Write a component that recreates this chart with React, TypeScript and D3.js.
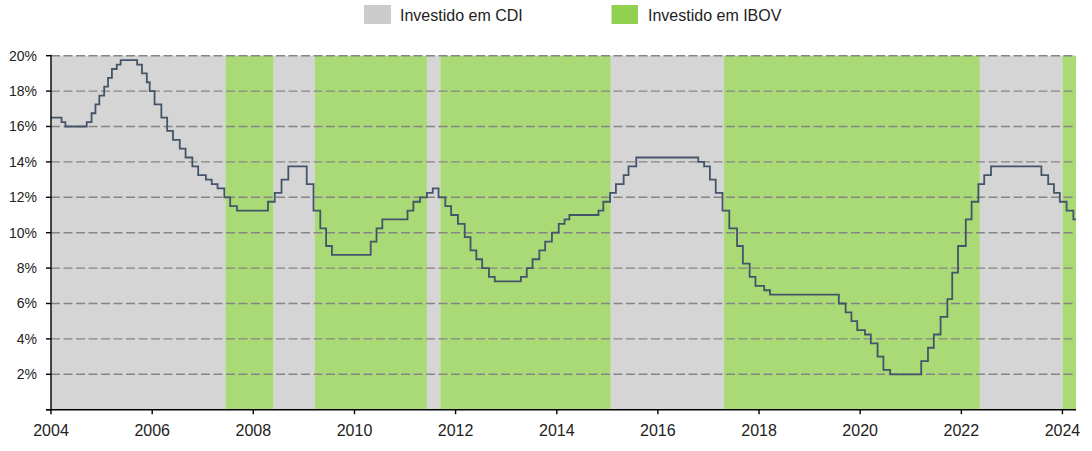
import React from "react";
import * as d3 from "d3";

// Selic target rate changes (decision date, % a.a.)
const changeDates: string[] = [
  "2004-01-01","2004-03-17","2004-04-14","2004-09-15","2004-10-20","2004-11-17","2004-12-15",
  "2005-01-19","2005-02-16","2005-03-16","2005-04-20","2005-05-18","2005-09-14","2005-10-19","2005-11-23","2005-12-14",
  "2006-01-18","2006-03-08","2006-04-19","2006-05-31","2006-07-19","2006-08-30","2006-10-18","2006-11-29",
  "2007-01-24","2007-03-07","2007-04-18","2007-06-06","2007-07-18","2007-09-05",
  "2008-04-16","2008-06-04","2008-07-23","2008-09-10",
  "2009-01-21","2009-03-11","2009-04-29","2009-06-10","2009-07-22",
  "2010-04-28","2010-06-09","2010-07-21",
  "2011-01-19","2011-03-02","2011-04-20","2011-06-08","2011-07-20","2011-08-31","2011-10-19","2011-11-30",
  "2012-01-18","2012-03-07","2012-04-18","2012-05-30","2012-07-11","2012-08-29","2012-10-10",
  "2013-04-17","2013-05-29","2013-07-10","2013-08-28","2013-10-09","2013-11-27",
  "2014-01-15","2014-02-26","2014-04-02","2014-10-29","2014-12-03",
  "2015-01-21","2015-03-04","2015-04-29","2015-06-03","2015-07-29",
  "2016-10-19","2016-11-30",
  "2017-01-11","2017-02-22","2017-04-12","2017-05-31","2017-07-26","2017-09-06","2017-10-25","2017-12-06",
  "2018-02-07","2018-03-21",
  "2019-07-31","2019-09-18","2019-10-30","2019-12-11",
  "2020-02-05","2020-03-18","2020-05-06","2020-06-17","2020-08-05",
  "2021-03-17","2021-05-05","2021-06-16","2021-08-04","2021-09-22","2021-10-27","2021-12-08",
  "2022-02-02","2022-03-16","2022-05-04","2022-06-15","2022-08-03",
  "2023-08-02","2023-09-20","2023-11-01","2023-12-13",
  "2024-01-31","2024-03-20","2024-04-08",
];
const selicValues: number[] = [
  16.5,16.25,16.0,16.25,16.75,17.25,17.75,
  18.25,18.75,19.25,19.5,19.75,19.5,19.0,18.5,18.0,
  17.25,16.5,15.75,15.25,14.75,14.25,13.75,13.25,
  13.0,12.75,12.5,12.0,11.5,11.25,
  11.75,12.25,13.0,13.75,
  12.75,11.25,10.25,9.25,8.75,
  9.5,10.25,10.75,
  11.25,11.75,12.0,12.25,12.5,12.0,11.5,11.0,
  10.5,9.75,9.0,8.5,8.0,7.5,7.25,
  7.5,8.0,8.5,9.0,9.5,10.0,
  10.5,10.75,11.0,11.25,11.75,
  12.25,12.75,13.25,13.75,14.25,
  14.0,13.75,
  13.0,12.25,11.25,10.25,9.25,8.25,7.5,7.0,
  6.75,6.5,
  6.0,5.5,5.0,4.5,
  4.25,3.75,3.0,2.25,2.0,
  2.75,3.5,4.25,5.25,6.25,7.75,9.25,
  10.75,11.75,12.75,13.25,13.75,
  13.25,12.75,12.25,11.75,
  11.25,10.75,10.75,
];

// Allocation regimes
const regimeStarts: string[] = ["2004-01-01","2007-06-14","2008-05-27","2009-03-20","2011-06-08","2011-09-13","2015-01-26","2017-04-22","2022-05-15","2024-01-01"];
const regimeEnds: string[] = ["2007-06-14","2008-05-27","2009-03-20","2011-06-08","2011-09-13","2015-01-26","2017-04-22","2022-05-15","2024-01-01","2024-04-08"];
const regimeTypes: string[] = ["CDI","IBOV","CDI","IBOV","CDI","IBOV","CDI","IBOV","CDI","IBOV"];

const legendLabels: string[] = ["Investido em CDI", "Investido em IBOV"];
const yTicks: number[] = [0, 2, 4, 6, 8, 10, 12, 14, 16, 18, 20];
const xTickYears: number[] = [2004, 2006, 2008, 2010, 2012, 2014, 2016, 2018, 2020, 2022, 2024];

const W = 1092;
const H = 451;
const left = 51;
const right = 1076;
const top = 55.7;
const bottom = 409.7;

const COLORS: Record<string, string> = { CDI: "#cccccc", IBOV: "#92d050" };
const FONT = "'Liberation Sans', Arial, sans-serif";

export default function App() {
  const parse = d3.timeParse("%Y-%m-%d");
  const x = d3.scaleTime().domain([parse("2004-01-01")!, parse("2024-04-08")!]).range([left, right]);
  const y = d3.scaleLinear().domain([0, 20]).range([bottom, top]);

  const points: [Date, number][] = changeDates.map((d, i) => [parse(d)!, selicValues[i]]);
  const line = d3
    .line<[Date, number]>()
    .x((d) => x(d[0]))
    .y((d) => y(d[1]))
    .curve(d3.curveStepAfter);

  return (
    <svg
      width={W}
      height={H}
      style={{ position: "absolute", left: 0, top: 0, background: "#fff" }}
      fontFamily={FONT}
    >
      {/* legend */}
      <g>
        <rect x={364} y={5} width={27} height={19} fill={COLORS.CDI} />
        <text x={400} y={21} fontSize={16} fill="#222">{legendLabels[0]}</text>
        <rect x={611.5} y={5} width={26.5} height={19} fill={COLORS.IBOV} />
        <text x={648} y={21} fontSize={16} fill="#222">{legendLabels[1]}</text>
      </g>

      {/* regime bands */}
      {regimeTypes.map((t, i) => {
        const x0 = x(parse(regimeStarts[i])!);
        const x1 = x(parse(regimeEnds[i])!);
        return (
          <rect
            key={i}
            x={x0}
            y={top}
            width={x1 - x0}
            height={bottom - top}
            fill={COLORS[t]}
            fillOpacity={t === "IBOV" ? 0.78 : 0.82}
          />
        );
      })}

      {/* gridlines */}
      {yTicks.filter((v) => v > 0).map((v) => (
        <line
          key={v}
          x1={left}
          x2={right}
          y1={y(v)}
          y2={y(v)}
          stroke="#858585"
          strokeWidth={1.4}
          strokeDasharray="9,3.5"
        />
      ))}

      {/* line */}
      <path d={line(points) || ""} fill="none" stroke="#44546a" strokeWidth={1.8} />

      {/* y axis */}
      <line x1={left} x2={left} y1={top - 1} y2={bottom} stroke="#000" strokeWidth={1.4} />
      {yTicks.map((v) => (
        <g key={v}>
          <line x1={left - 5} x2={left} y1={y(v)} y2={y(v)} stroke="#000" strokeWidth={1.4} />
          {v > 0 && (
            <text x={37} y={y(v)} dy="0.35em" textAnchor="end" fontSize={14} fill="#222">
              {v}%
            </text>
          )}
        </g>
      ))}

      {/* x axis */}
      <line x1={left - 5} x2={right} y1={bottom} y2={bottom} stroke="#000" strokeWidth={1.4} />
      {xTickYears.map((yr) => {
        const xv = x(new Date(yr, 0, 1));
        return (
          <g key={yr}>
            <line x1={xv} x2={xv} y1={bottom} y2={bottom + 4.5} stroke="#000" strokeWidth={1.4} />
            <text x={xv} y={436} textAnchor="middle" fontSize={16} fill="#222">
              {yr}
            </text>
          </g>
        );
      })}
    </svg>
  );
}
